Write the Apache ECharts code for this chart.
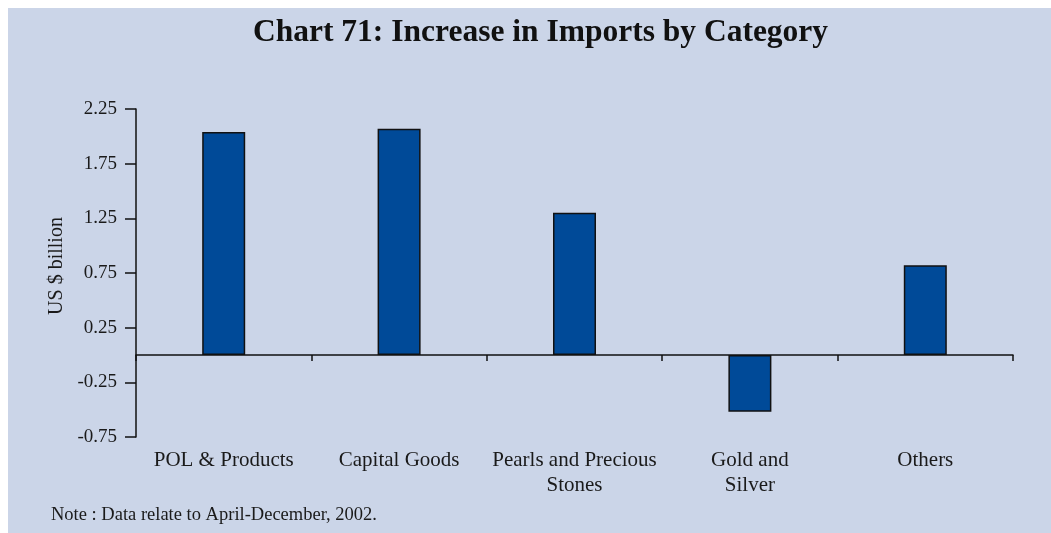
<!DOCTYPE html>
<html>
<head>
<meta charset="utf-8">
<script src="https://cdn.jsdelivr.net/npm/echarts@6/dist/echarts.min.js"></script>
<style>
  html, body { margin: 0; padding: 0; background: #fff; }
  #chart { width: 1051px; height: 533px; }
</style>
</head>
<body>
<div id="chart"></div>
<script>
// data
const categories = ['POL & Products', 'Capital Goods', 'Pearls and Precious\nStones', 'Gold and\nSilver', 'Others'];
const increase = [2.04, 2.07, 1.30, -0.52, 0.82];

const serif = '"Liberation Serif", "DejaVu Serif", serif';

let chart = echarts.init(document.getElementById('chart'));
chart.setOption({
  backgroundColor: '#fff',
  animation: false,
  graphic: [
    {
      type: 'rect',
      z: -10,
      shape: { x: 8, y: 8, width: 1043, height: 525 },
      style: { fill: '#cbd5e8' }
    },
    {
      type: 'text',
      left: 51,
      top: 506,
      style: {
        text: 'Note : Data relate to April-December, 2002.',
        font: '18.5px ' + serif,
        fill: '#1a1a1a'
      }
    }
  ],
  title: {
    text: 'Chart 71: Increase in Imports by Category',
    left: 248,
    top: 12,
    textStyle: {
      fontFamily: serif,
      fontSize: 31.5,
      fontWeight: 'bold',
      color: '#111'
    }
  },
  grid: {
    left: 136,
    right: 38,
    top: 109,
    bottom: 96
  },
  xAxis: [
    {
      type: 'category',
      data: categories,
      axisLine: { onZero: true, lineStyle: { color: '#111', width: 1.5 } },
      axisTick: { show: true, inside: false, length: 6, lineStyle: { color: '#111', width: 1.5 } },
      axisLabel: { show: false }
    },
    {
      type: 'category',
      data: categories,
      position: 'bottom',
      axisLine: { show: false },
      axisTick: { show: false },
      axisLabel: {
        margin: 11,
        interval: 0,
        fontFamily: serif,
        fontSize: 21,
        lineHeight: 25,
        color: '#1a1a1a'
      }
    }
  ],
  yAxis: {
    type: 'value',
    min: -0.75,
    max: 2.25,
    interval: 0.5,
    name: 'US $ billion',
    nameLocation: 'middle',
    nameGap: 69,
    nameRotate: 90,
    nameTextStyle: {
      fontFamily: serif,
      fontSize: 20,
      color: '#1a1a1a',
      padding: [0, 0, 0, 14]
    },
    splitLine: { show: false },
    axisLine: { show: true, lineStyle: { color: '#111', width: 1.5 } },
    axisTick: { show: true, length: 11, lineStyle: { color: '#111', width: 1.5 } },
    axisLabel: {
      margin: 19,
      fontFamily: serif,
      fontSize: 19,
      color: '#1a1a1a',
      formatter: function (v) { return v.toFixed(2); }
    }
  },
  series: [
    {
      type: 'bar',
      xAxisIndex: 0,
      data: increase,
      barWidth: 43,
      itemStyle: {
        color: '#004a98',
        borderColor: '#111',
        borderWidth: 1.5
      }
    }
  ]
});
</script>
</body>
</html>
